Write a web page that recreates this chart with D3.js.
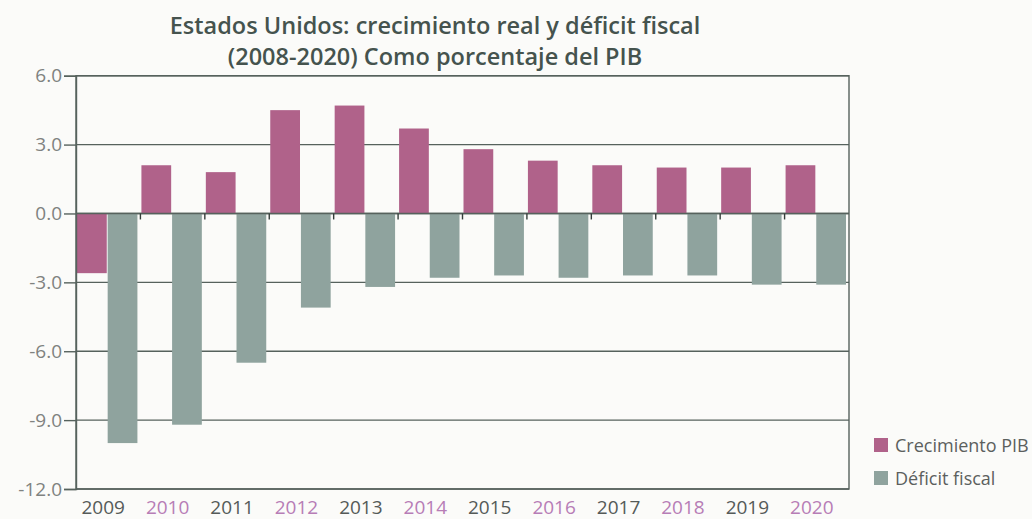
<!DOCTYPE html>
<html>
<head>
<meta charset="utf-8">
<script src="https://cdn.jsdelivr.net/npm/d3@7"></script>
<style>
  html, body { margin: 0; padding: 0; background: #fbfbf9; }
  svg { display: block; font-family: "Open Sans", "Noto Sans", sans-serif; }
</style>
</head>
<body>
<svg id="chart" width="1032" height="519"></svg>
<script>
// Years on the horizontal axis
const years = ["2009", "2010", "2011", "2012", "2013", "2014", "2015", "2016", "2017", "2018", "2019", "2020"];
// Real GDP growth, % of GDP
const crecimientoPIB = [-2.6, 2.1, 1.8, 4.5, 4.7, 3.7, 2.8, 2.3, 2.1, 2.0, 2.0, 2.1];
// Fiscal deficit, % of GDP
const deficitFiscal = [-10.0, -9.2, -6.5, -4.1, -3.2, -2.8, -2.7, -2.8, -2.7, -2.7, -3.1, -3.1];
// Vertical axis ticks
const yTicks = [6, 3, 0, -3, -6, -9, -12];
const seriesNames = ["Crecimiento PIB", "Déficit fiscal"];
const titleLines = ["Estados Unidos: crecimiento real y déficit fiscal", "(2008-2020) Como porcentaje del PIB"];

const colors = { pib: "#b0628a", def: "#8fa39e" };
const gridColor = "#56625d";

const svg = d3.select("#chart");
const plot = { left: 76, right: 849, top: 75.7, bottom: 489 };

const x = d3.scaleBand().domain(years).range([plot.left, plot.right]).paddingInner(0).paddingOuter(0);
const xSub = d3.scaleBand().domain(["pib", "def"]).range([1, x.bandwidth() - 3]).paddingInner(0.03);
const y = d3.scaleLinear().domain([-12, 6]).range([plot.bottom, plot.top]);

// Title
svg.append("g").selectAll("text").data(titleLines).join("text")
  .attr("x", 435).attr("y", (d, i) => 34 + i * 31)
  .attr("text-anchor", "middle")
  .attr("font-size", 23.5).attr("font-weight", 600)
  .attr("fill", "#45534e")
  .text(d => d);

// Horizontal gridlines
svg.append("g").selectAll("line").data(yTicks).join("line")
  .attr("x1", plot.left).attr("x2", plot.right)
  .attr("y1", d => y(d)).attr("y2", d => y(d))
  .attr("stroke", gridColor).attr("stroke-width", 1.4);

// Bars
const barG = svg.append("g");
const rows = years.map((yr, i) => ({ yr, pib: crecimientoPIB[i], def: deficitFiscal[i] }));
["pib", "def"].forEach(key => {
  barG.selectAll("rect." + key).data(rows).join("rect")
    .attr("class", key)
    .attr("x", d => x(d.yr) + xSub(key))
    .attr("width", xSub.bandwidth())
    .attr("y", d => y(Math.max(0, d[key])))
    .attr("height", d => Math.abs(y(d[key]) - y(0)))
    .attr("fill", colors[key]);
});

// Zero line drawn over the bars
svg.append("line")
  .attr("x1", plot.left).attr("x2", plot.right)
  .attr("y1", y(0)).attr("y2", y(0))
  .attr("stroke", gridColor).attr("stroke-width", 1.4);

// Category dividers hanging under the zero line
svg.append("g").selectAll("line").data(years.slice(1)).join("line")
  .attr("x1", d => x(d)).attr("x2", d => x(d))
  .attr("y1", y(0)).attr("y2", y(0) + 6)
  .attr("stroke", "#333d39").attr("stroke-width", 1.4);

// Plot frame
svg.append("rect")
  .attr("x", plot.left).attr("y", plot.top)
  .attr("width", plot.right - plot.left).attr("height", plot.bottom - plot.top)
  .attr("fill", "none").attr("stroke", gridColor).attr("stroke-width", 1.4);

// Left axis
const yAxis = d3.axisLeft(y).tickValues(yTicks).tickFormat(d => d.toFixed(1)).tickSize(12).tickPadding(2);
const yAxisG = svg.append("g").attr("transform", `translate(${plot.left},0)`).call(yAxis);
yAxisG.select(".domain").attr("stroke", gridColor).attr("stroke-width", 1.4);
yAxisG.selectAll(".tick line").attr("stroke", gridColor).attr("stroke-width", 1.4);
yAxisG.selectAll(".tick text")
  .attr("font-size", 19).attr("fill", "#7f8280")
  .attr("font-family", "'Open Sans', sans-serif");

// Bottom axis (year labels)
const xAxis = d3.axisBottom(x).tickSize(0).tickPadding(0);
const xAxisG = svg.append("g").attr("transform", `translate(0,${plot.bottom})`).call(xAxis);
xAxisG.select(".domain").remove();
xAxisG.selectAll(".tick text")
  .attr("dy", 0).attr("y", 25).attr("dx", -5)
  .attr("font-size", 19)
  .attr("font-family", "'Open Sans', sans-serif")
  .attr("fill", (d, i) => i % 2 ? "#b77db6" : "#555a58");

// Legend
const legend = svg.append("g").attr("transform", "translate(874,438)");
const legendItems = legend.selectAll("g").data(seriesNames).join("g")
  .attr("transform", (d, i) => `translate(0,${i * 33})`);
legendItems.append("rect")
  .attr("width", 14).attr("height", 14)
  .attr("fill", (d, i) => i ? colors.def : colors.pib);
legendItems.append("text")
  .attr("x", 21).attr("y", 14)
  .attr("font-size", 18).attr("fill", "#5b605e")
  .text(d => d);
</script>
</body>
</html>
